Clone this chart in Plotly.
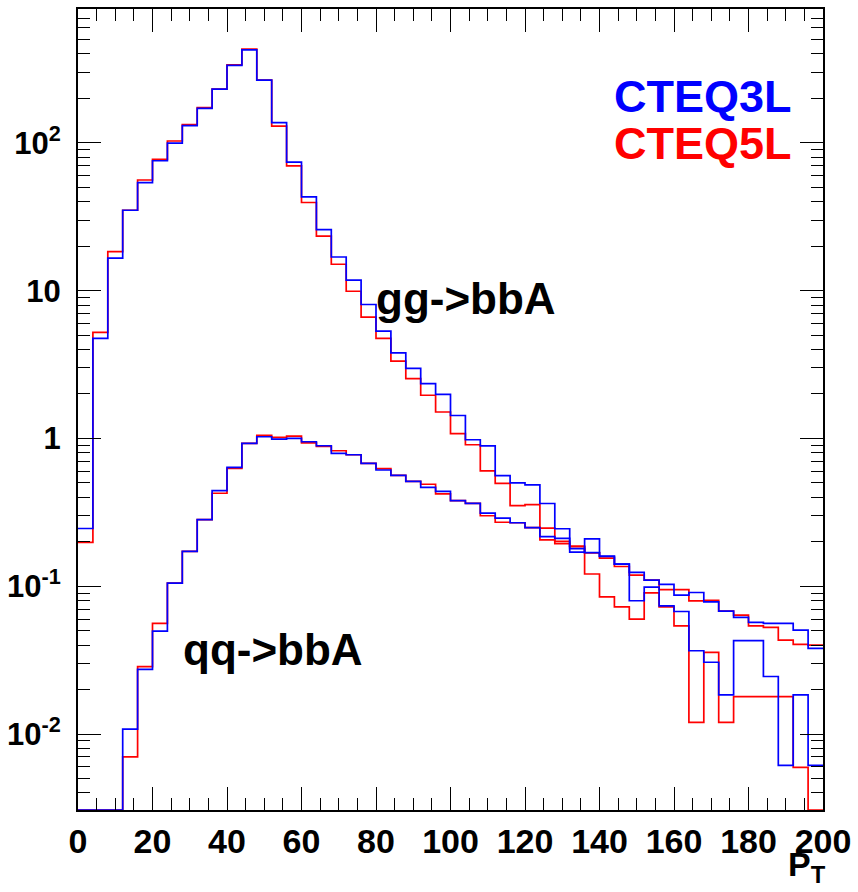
import numpy as np
import plotly.graph_objects as go

# bin edges: 50 bins of width 4 GeV from 0 to 200
bin_edges = list(range(0, 204, 4))

gg_cteq3l = [0.246, 4.75, 16.6, 35.0, 53.8, 75.7, 99.7, 131, 171, 231,
             335, 426, 266, 137, 74.2, 43.1, 25.9, 16.9, 11.8, 8.06,
             5.32, 3.80, 2.98, 2.35, 1.99, 1.43, 0.980, 0.890, 0.560, 0.500,
             0.486, 0.363, 0.245, 0.170, 0.209, 0.159, 0.141, 0.0798, 0.0985, 0.0737,
             0.0675, 0.0366, 0.0306, 0.0184, 0.0428, 0.0428, 0.0245, 0.00614, 0.0184, 0.00614]

gg_cteq5l = [0.198, 5.22, 18.4, 35.0, 56.1, 77.3, 103, 133, 173, 231,
             338, 431, 266, 130, 69.8, 39.5, 23.4, 15.1, 9.91, 6.62,
             4.75, 3.34, 2.54, 1.96, 1.51, 1.08, 0.907, 0.604, 0.497, 0.351,
             0.357, 0.247, 0.194, 0.187, 0.121, 0.0847, 0.0725, 0.0599, 0.0901, 0.0725,
             0.0540, 0.0120, 0.0357, 0.0120, 0.0179, 0.0179, 0.0179, 0.0179, 0.00595, 0.0]

qq_cteq3l = [0.0, 0.0, 0.0, 0.0108, 0.0274, 0.0497, 0.105, 0.172, 0.282, 0.444,
             0.637, 0.925, 1.027, 0.991, 1.00, 0.950, 0.893, 0.792, 0.776, 0.678,
             0.612, 0.563, 0.513, 0.467, 0.439, 0.380, 0.364, 0.312, 0.289, 0.269,
             0.249, 0.217, 0.211, 0.180, 0.169, 0.160, 0.141, 0.124, 0.110, 0.103,
             0.0870, 0.0907, 0.0784, 0.0678, 0.0615, 0.0569, 0.0560, 0.0560, 0.0505, 0.0380]

qq_cteq5l = [0.0, 0.0, 0.0, 0.00700, 0.0286, 0.0560, 0.105, 0.172, 0.282, 0.426,
             0.628, 0.925, 1.048, 1.016, 1.038, 0.935, 0.883, 0.826, 0.776, 0.678,
             0.625, 0.563, 0.513, 0.490, 0.422, 0.380, 0.364, 0.300, 0.271, 0.269,
             0.249, 0.206, 0.201, 0.185, 0.168, 0.155, 0.136, 0.119, 0.110, 0.0950,
             0.0950, 0.0796, 0.0804, 0.0678, 0.0637, 0.0540, 0.0527, 0.0432, 0.0404, 0.0400]

y_tick_vals = [0.01, 0.1, 1, 10, 100]
y_tick_text = ["10<sup>-2</sup>", "10<sup>-1</sup>", "1", "10", "10<sup>2</sup>"]
x_tick_vals = list(range(0, 220, 20))

YLOG_RANGE = [-2.514, 2.906]
FLOOR = 10 ** YLOG_RANGE[0]

FONT = "Liberation Sans, Arial, Helvetica, sans-serif"
BLUE = "#0000ff"
RED = "#ff0000"


def step_trace(vals, color, name):
    v = np.array(vals, dtype=float)
    v = np.where(v > 0, v, FLOOR)
    x = np.array(bin_edges, dtype=float)
    y = np.append(v, v[-1])
    return go.Scatter(x=x, y=y, mode="lines", line=dict(color=color, width=1.7, shape="hv"),
                      name=name, showlegend=False, hoverinfo="skip", cliponaxis=True)


fig = go.Figure()
fig.add_trace(step_trace(qq_cteq5l, RED, "qq CTEQ5L"))
fig.add_trace(step_trace(gg_cteq5l, RED, "gg CTEQ5L"))
fig.add_trace(step_trace(qq_cteq3l, BLUE, "qq CTEQ3L"))
fig.add_trace(step_trace(gg_cteq3l, BLUE, "gg CTEQ3L"))

minor_y = [m * 10 ** e for e in range(-3, 3) for m in range(2, 10)]

fig.update_layout(
    width=858, height=892, autosize=False,
    margin=dict(l=78, r=31, t=7, b=82, pad=0),
    paper_bgcolor="white", plot_bgcolor="white",
    font=dict(family=FONT, color="black"),
    xaxis=dict(
        range=[0, 200], showgrid=False, zeroline=False,
        showline=True, linecolor="black", linewidth=2, mirror="ticks",
        ticks="inside", ticklen=23, tickwidth=1.3, tickcolor="black",
        tickmode="array", tickvals=x_tick_vals,
        tickfont=dict(family=FONT, size=34, color="black", weight="bold"),
        minor=dict(ticks="inside", ticklen=12, tickwidth=1.3, tickcolor="black",
                   dtick=5, tick0=0, showgrid=False),
    ),
    yaxis=dict(
        type="log", range=YLOG_RANGE, showgrid=False, zeroline=False,
        showline=True, linecolor="black", linewidth=2, mirror="ticks",
        ticks="inside", ticklen=23, tickwidth=1.3, tickcolor="black",
        tickmode="array", tickvals=y_tick_vals, ticktext=y_tick_text,
        tickfont=dict(family=FONT, size=31, color="black", weight="bold"),
        ticklabelstandoff=9,
        minor=dict(ticks="inside", ticklen=12, tickwidth=1.3, tickcolor="black",
                   tickmode="array", tickvals=minor_y, showgrid=False),
    ),
)

px0, px1, py0, py1 = 78.3, 826.7, 6.7, 810.5


def paper_xy(px, py):
    return (px - px0) / (px1 - px0), (py1 - py) / (py1 - py0)


def add_label(text, px, py, color, size, xanchor="left"):
    x, y = paper_xy(px, py)
    fig.add_annotation(x=x, y=y, xref="paper", yref="paper", text=text, showarrow=False,
                       xanchor=xanchor, yanchor="middle",
                       font=dict(family=FONT, size=size, color=color, weight="bold"))


add_label("CTEQ3L", 798, 95, BLUE, 45, xanchor="right")
add_label("CTEQ5L", 798, 142, RED, 45, xanchor="right")
add_label("gg-&gt;bbA", 376, 297, "black", 44)
add_label("qq-&gt;bbA", 182, 649, "black", 44)
add_label("P<sub>T</sub>", 832, 867, "black", 34, xanchor="right")

fig.write_html("out.html")
